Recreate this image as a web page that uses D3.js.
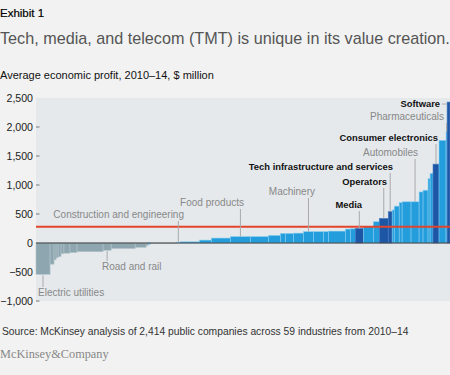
<!DOCTYPE html>
<html>
<head>
<meta charset="utf-8">
<script src="https://cdn.jsdelivr.net/npm/d3@7"></script>
<style>
  html, body { margin: 0; padding: 0; background: #f1f2f1; }
  svg { display: block; font-family: "Liberation Sans", Arial, Helvetica, sans-serif; }
</style>
</head>
<body>
<div id="chart"></div>
<script>
// industries sorted by average economic profit; width = number of companies
const companies = [82, 23, 12, 12, 17, 17, 35, 41, 152, 47, 140, 64, 12, 12, 152,
    23, 111, 70, 111, 117, 105, 70, 29, 47, 58, 58, 58, 29, 99, 29, 29,
    47, 58, 35, 52, 23, 12, 29, 17, 52, 47, 23, 29, 12, 17, 35, 41, 6, 17];
const profits = [-540, -365, -290, -255, -235, -185, -175, -165, -150, -125, -95, -75, -45, -20, -8,
    10, 20, 50, 85, 110, 110, 130, 165, 165, 170, 195, 195, 195, 205, 240, 245,
    252, 280, 367, 425, 540, 570, 635, 695, 710, 710, 880, 910, 1110, 1200, 1360, 1770, 1920, 2430];
// TMT industries shown in dark blue
const tmt = ["Media", "Operators", "Tech infrastructure and services", "Consumer electronics", "Software"];
const average = 280;
const yTicks = [2500, 2000, 1500, 1000, 500, 0, -500, -1000];

// labelled industries (index into the arrays above)
const labels = [
    { i: 0, text: "Electric utilities" },
    { i: 9, text: "Road and rail" },
    { i: 15, text: "Construction and engineering" },
    { i: 19, text: "Food products" },
    { i: 25, text: "Machinery" },
    { i: 31, text: "Media" },
    { i: 34, text: "Operators" },
    { i: 35, text: "Tech infrastructure and services" },
    { i: 40, text: "Automobiles" },
    { i: 45, text: "Consumer electronics" },
    { i: 47, text: "Pharmaceuticals" },
    { i: 48, text: "Software" }
];

// label layout: anchor, text x, baseline y (pixels)
const labelLayout = {
    "Electric utilities": ["start", 38, 296],
    "Road and rail": ["start", 102, 270],
    "Construction and engineering": ["end", 184, 218],
    "Food products": ["end", 244, 206],
    "Machinery": ["end", 315, 195],
    "Media": ["end", 362, 208],
    "Operators": ["end", 387, 185],
    "Tech infrastructure and services": ["end", 393, 170],
    "Automobiles": ["end", 418, 156],
    "Consumer electronics": ["end", 438, 141],
    "Pharmaceuticals": ["end", 444, 120],
    "Software": ["end", 440, 107]
};

const W = 450, H = 375;
const svg = d3.select("#chart").append("svg")
    .attr("width", W)
    .attr("height", H);

// header
svg.append("text")
    .attr("x", 0).attr("y", 17)
    .style("font-size", "11.5px")
    .style("fill", "#000")
    .style("stroke", "#000")
    .style("stroke-width", 0.2)
    .text("Exhibit 1");

svg.append("text")
    .attr("x", 0).attr("y", 44)
    .style("font-size", "16.2px")
    .style("fill", "#555")
    .text("Tech, media, and telecom (TMT) is unique in its value creation.");

svg.append("text")
    .attr("x", 0).attr("y", 79)
    .style("font-size", "11px")
    .style("fill", "#111")
    .text("Average economic profit, 2010\u201314, $ million");

// scales
const starts = [];
let acc = 0;
companies.forEach(c => { starts.push(acc); acc += c; });

const x = d3.scaleLinear()
    .domain([0, acc])
    .range([36, 450]);

const y = d3.scaleLinear()
    .domain([-1000, 2500])
    .range([301, 98]);

// plot background
svg.append("rect")
    .attr("x", x(0))
    .attr("y", y(2500))
    .attr("width", x(acc) - x(0))
    .attr("height", y(-1000) - y(2500))
    .style("fill", "#e5e9ec");

// y axis
const yAxis = svg.append("g")
    .attr("transform", `translate(${x(0)},0)`)
    .call(d3.axisLeft(y)
        .tickValues(yTicks)
        .tickSize(0)
        .tickPadding(3)
        .tickFormat(d => d3.format(",")(d).replace("-", "\u2013")));
yAxis.select(".domain").remove();
yAxis.selectAll("text")
    .style("font-size", "10.6px")
    .style("font-family", "\"Liberation Sans\", Arial, sans-serif")
    .style("fill", "#222");

// small dashes next to the tick labels
svg.selectAll(".tickdash")
    .data(yTicks.filter(d => d !== 0 && d !== 2500))
    .enter().append("line")
    .attr("x1", x(0))
    .attr("x2", x(0) + 3.5)
    .attr("y1", d => y(d))
    .attr("y2", d => y(d))
    .style("stroke", "#777")
    .style("stroke-width", 1);

// bars
const bars = profits.map((v, i) => ({ v, i, start: starts[i], w: companies[i] }));
const nameOf = {};
labels.forEach(l => { nameOf[l.i] = l.text; });

svg.selectAll(".bar")
    .data(bars)
    .enter().append("rect")
    .attr("x", d => x(d.start))
    .attr("width", d => x(d.start + d.w) - x(d.start))
    .attr("y", d => y(Math.max(0, d.v)))
    .attr("height", d => Math.abs(y(d.v) - y(0)))
    .style("fill", d => {
        if (tmt.includes(nameOf[d.i])) return "#1d56a5";
        return d.v < 0 && d.i !== 13 ? "#8ea6b0" : "#239ddc";
    })
    .style("stroke", d => {
        if (tmt.includes(nameOf[d.i])) return "#4a7fc4";
        return d.v < 0 && d.i !== 13 ? "#b3c4ca" : "#86cdf0";
    })
    .style("stroke-width", 0.6);

// zero line
svg.append("line")
    .attr("x1", x(0)).attr("x2", x(acc))
    .attr("y1", y(0)).attr("y2", y(0))
    .style("stroke", "#3a3a3a")
    .style("stroke-width", 1);

// average line
svg.append("line")
    .attr("x1", x(0)).attr("x2", x(acc))
    .attr("y1", y(average)).attr("y2", y(average))
    .style("stroke", "#e2452b")
    .style("stroke-width", 2);

// labels and leaders
labels.forEach(l => {
    const [anchor, lx, ly] = labelLayout[l.text];
    const b = bars[l.i];
    const cx = x(b.start + b.w / 2);
    const bold = tmt.includes(l.text);

    if (l.text === "Software") {
        svg.append("line")
            .attr("x1", lx + 2).attr("x2", x(b.start))
            .attr("y1", ly - 3).attr("y2", ly - 3)
            .style("stroke", "#aaa").style("stroke-width", 1);
    } else if (b.v < 0) {
        svg.append("line")
            .attr("x1", cx).attr("x2", cx)
            .attr("y1", y(b.v) + 1).attr("y2", ly - 9)
            .style("stroke", "#aaa").style("stroke-width", 1);
    } else {
        svg.append("line")
            .attr("x1", cx).attr("x2", cx)
            .attr("y1", ly + 3).attr("y2", y(b.v))
            .style("stroke", "#aaa").style("stroke-width", 1);
    }

    svg.append("text")
        .attr("x", lx).attr("y", ly)
        .attr("text-anchor", anchor)
        .style("font-size", bold ? "9.4px" : "10px")
        .style("font-weight", bold ? "bold" : "normal")
        .style("fill", bold ? "#111" : "#888")
        .text(l.text);
});

// footer
svg.append("text")
    .attr("x", 2).attr("y", 335)
    .style("font-size", "10.3px")
    .style("fill", "#333")
    .text("Source: McKinsey analysis of 2,414 public companies across 59 industries from 2010\u201314");

svg.append("text")
    .attr("x", 0).attr("y", 358)
    .style("font-size", "12.3px")
    .style("font-family", "\"Liberation Serif\", \"Times New Roman\", serif")
    .style("fill", "#888")
    .text("McKinsey&Company");
</script>
</body>
</html>
